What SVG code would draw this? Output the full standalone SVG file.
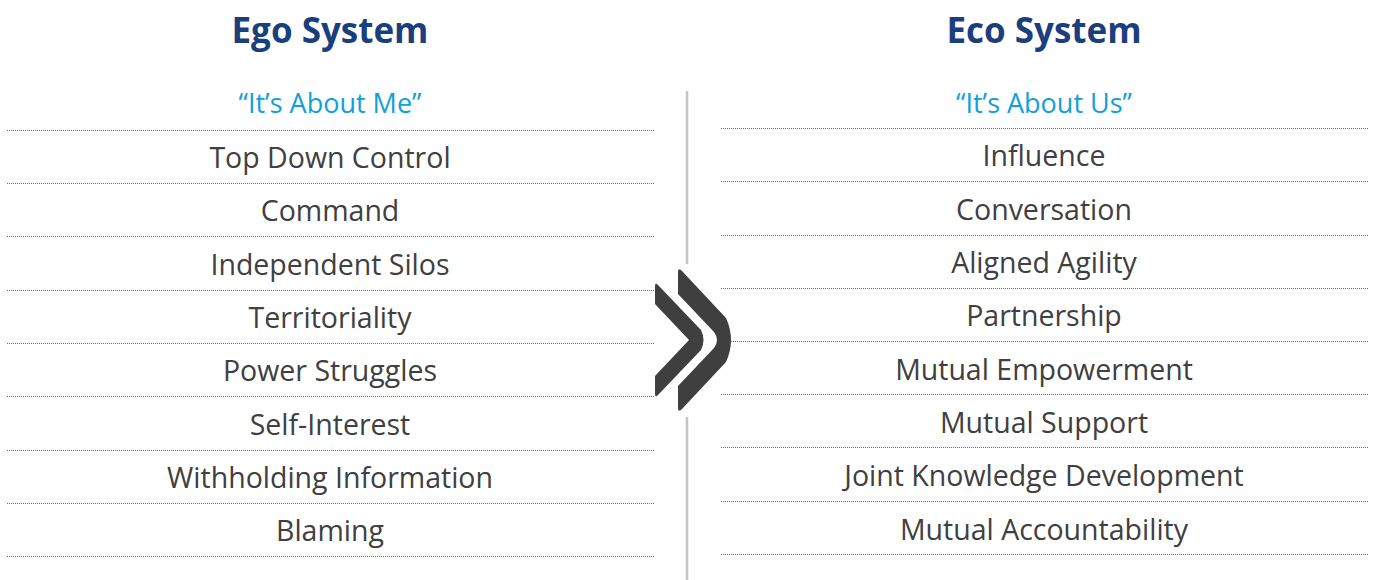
<svg xmlns="http://www.w3.org/2000/svg" width="1375" height="580" viewBox="0 0 1375 580">
<style>
.h{font-family:"Open Sans","Liberation Sans",sans-serif;font-weight:bold;font-size:35px;fill:#1b3f7d;text-anchor:middle}
.s{font-family:"Open Sans","Liberation Sans",sans-serif;font-size:27px;fill:#10a0dc;text-anchor:middle}
.t{font-family:"Open Sans","Liberation Sans",sans-serif;font-size:28.5px;fill:#404040;text-anchor:middle}
.d{stroke:#6a6a6a;stroke-width:1;stroke-dasharray:1 1;fill:none}
.v{stroke:#c4c4c4;stroke-width:2.5;fill:none}
.c{fill:#3f3f3f}
</style>
<rect width="1375" height="580" fill="#fff"/>
<g id="ego">
<text class="h" x="330" y="43">Ego System</text>
<text class="s" x="330" y="113">“It’s About Me”</text>
<text class="t" x="330" y="168">Top Down Control</text>
<text class="t" x="330" y="221">Command</text>
<text class="t" x="330" y="275">Independent Silos</text>
<text class="t" x="330" y="328">Territoriality</text>
<text class="t" x="330" y="381">Power Struggles</text>
<text class="t" x="330" y="435">Self-Interest</text>
<text class="t" x="330" y="488">Withholding Information</text>
<text class="t" x="330" y="541">Blaming</text>
</g>
<g id="eco">
<text class="h" x="1044" y="43">Eco System</text>
<text class="s" x="1044" y="113">“It’s About Us”</text>
<text class="t" x="1044" y="166">Influence</text>
<text class="t" x="1044" y="220">Conversation</text>
<text class="t" x="1044" y="273">Aligned Agility</text>
<text class="t" x="1044" y="326">Partnership</text>
<text class="t" x="1044" y="380">Mutual Empowerment</text>
<text class="t" x="1044" y="433">Mutual Support</text>
<text class="t" x="1044" y="486">Joint Knowledge Development</text>
<text class="t" x="1044" y="540">Mutual Accountability</text>
</g>
<g id="connectors">
<path class="d" d="M7 130.5H654M7 183.5H654M7 236.5H654M7 290.5H654M7 343.5H654M7 396.5H654M7 450.5H654M7 503.5H654M7 556.5H654"/>
<path class="d" d="M721 128.5H1368M721 181.5H1368M721 235.5H1368M721 288.5H1368M721 341.5H1368M721 394.5H1368M721 447.5H1368M721 501.5H1368M721 554.5H1368"/>
<path class="v" d="M687 91V264M687 417V580"/>
<path class="c" d="M655 286Q655 282 658 285L701 330Q706 340 701 350L658 395Q655 398 655 394V376L689 340L655 304Z"/>
<path class="c" d="M678 272Q678 267 682 271L726 318Q736 340 726 362L682 409Q678 413 678 408V386L714 348Q720 340 714 332L678 294Z"/>
</g>
</svg>
